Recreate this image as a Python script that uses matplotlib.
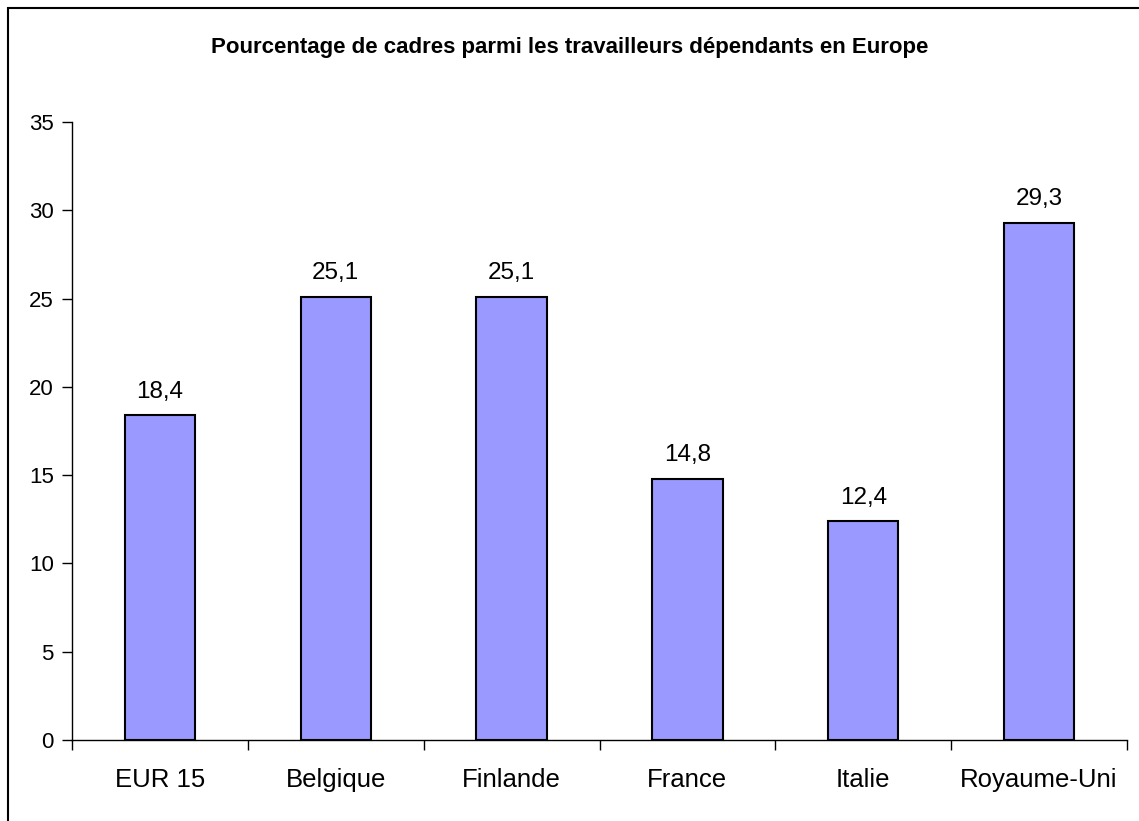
import matplotlib.pyplot as plt
from matplotlib.patches import Rectangle

plt.rcParams['font.family'] = ['Liberation Sans', 'DejaVu Sans']

pays = ['EUR 15', 'Belgique', 'Finlande', 'France', 'Italie', 'Royaume-Uni']
valeurs = [18.4, 25.1, 25.1, 14.8, 12.4, 29.3]
etiquettes = ['18,4', '25,1', '25,1', '14,8', '12,4', '29,3']

fig = plt.figure(figsize=(11.39, 8.21), dpi=100)
ax = fig.add_axes([0.0632, 0.0987, 0.9263, 0.7527])

x = range(len(pays))
ax.bar(x, valeurs, width=0.4, color='#9999FF', edgecolor='black', linewidth=1.5, zorder=3)

for xi, v, lab in zip(x, valeurs, etiquettes):
    ax.annotate(lab, (xi, v), xytext=(0, 12.5), textcoords='offset points',
                ha='center', va='baseline', fontsize=17.5)

ax.set_xlim(-0.5, len(pays) - 0.5)
ax.set_ylim(0, 35)
ax.set_yticks(range(0, 36, 5))
ax.set_xticks([i - 0.5 for i in range(len(pays) + 1)], minor=False)
ax.set_xticklabels([])
ax.set_xticks(list(x), minor=True)
ax.set_xticklabels(pays, minor=True, fontsize=18.5)
ax.tick_params(axis='x', which='minor', length=0, pad=20)
ax.tick_params(axis='x', which='major', length=7, width=1, direction='out')
ax.tick_params(axis='y', length=7, width=1, direction='out', labelsize=16, pad=6)

for s in ['top', 'right']:
    ax.spines[s].set_visible(False)
for s in ['left', 'bottom']:
    ax.spines[s].set_linewidth(1)

fig.text(0.5, 1 - 47 / 821, 'Pourcentage de cadres parmi les travailleurs dépendants en Europe',
         ha='center', va='center', fontsize=16, fontweight='bold')

# cadre extérieur du graphique
fig.patches.append(Rectangle((8 / 1139, -0.1), 1.2, 1 - 8 / 821 + 0.1, transform=fig.transFigure,
                             fill=False, edgecolor='black', linewidth=1.5))

fig.savefig('out.png', dpi=100)
